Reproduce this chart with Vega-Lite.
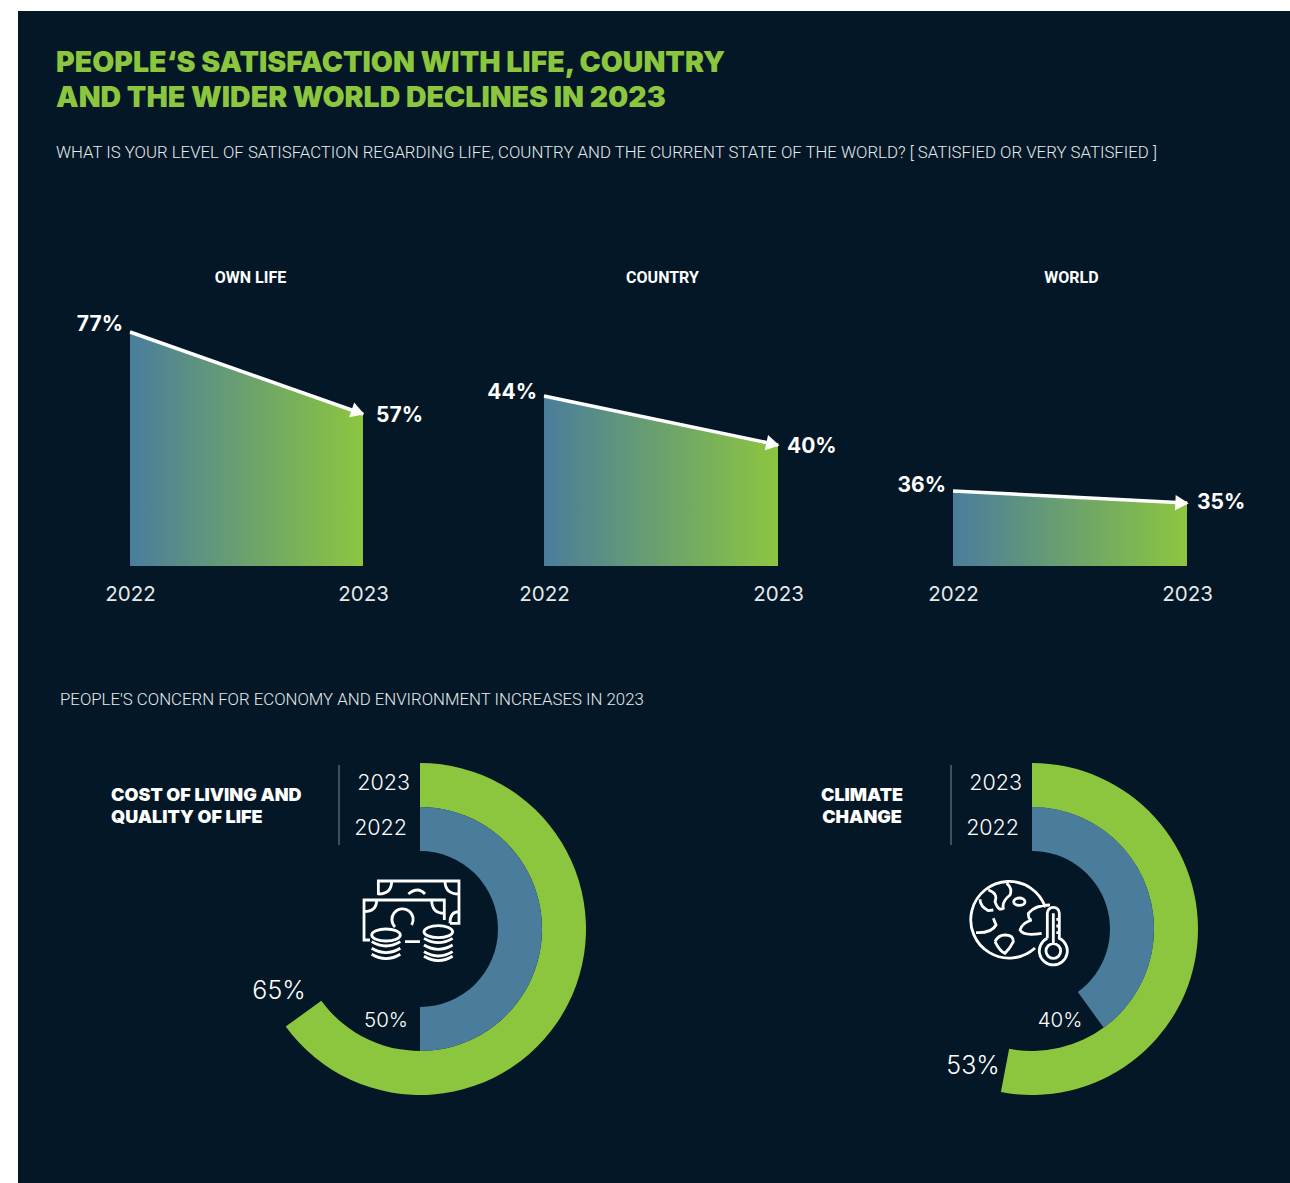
{
"$schema":"https://vega.github.io/schema/vega-lite/v6.json",
"width":1272,"height":1172,
"autosize":{"type":"none"},
"padding":{"left":18,"top":11,"right":0,"bottom":0},
"background":"#ffffff",
"view":{"fill":"#031726","stroke":null},
"title":{"text":["PEOPLE‘S SATISFACTION WITH LIFE, COUNTRY","AND THE WIDER WORLD DECLINES IN 2023"],
"subtitle":"WHAT IS YOUR LEVEL OF SATISFACTION REGARDING LIFE, COUNTRY AND THE CURRENT STATE OF THE WORLD? [ SATISFIED OR VERY SATISFIED ]",
"orient":"top","frame":"group","anchor":"start","dx":38,"offset":-151,
"font":"Inter","fontWeight":900,"fontSize":28.5,"lineHeight":35,"color":"#8cc63f",
"subtitleFont":"Roboto","subtitleFontWeight":300,"subtitleFontSize":16.8,"subtitleColor":"#e8ebed","subtitlePadding":33},
"datasets":{
"sat":[
{"panel":"OWN LIFE","year":2022,"pct":77,"label":"77%"},{"panel":"OWN LIFE","year":2023,"pct":57,"label":"57%"},
{"panel":"COUNTRY","year":2022,"pct":44,"label":"44%"},{"panel":"COUNTRY","year":2023,"pct":40,"label":"40%"},
{"panel":"WORLD","year":2022,"pct":36,"label":"36%"},{"panel":"WORLD","year":2023,"pct":35,"label":"35%"}],
"donut":[
{"panel":"cost","year":"2023","pct":65,"start":0,"label":"65%"},{"panel":"cost","year":"2022","pct":50,"start":0,"label":"50%"},
{"panel":"climate","year":"2023","pct":53,"start":0,"label":"53%"},{"panel":"climate","year":"2022","pct":40,"start":0,"label":"40%"}],
"notes":[{"panel":"cost","label":"COST OF LIVING AND\nQUALITY OF LIFE"},{"panel":"climate","label":"CLIMATE\nCHANGE"}]
},
"resolve":{"scale":{"x":"independent","y":"independent","theta":"independent"},"axis":{"x":"independent","y":"independent"}},
"layer":[
{"data":{"name":"sat"},"transform":[{"filter":"datum.panel==='OWN LIFE'"}],
"encoding":{
"x":{"field":"year","type":"quantitative","scale":{"domain":[2022,2023],"range":[112,345],"zero":false,"nice":false},
"axis":{"orient":"bottom","offset":-617,"values":[2022,2023],"format":"d","domain":false,"ticks":false,"grid":false,"labelPadding":18,"labelFont":"Inter","labelFontSize":20.5,"labelColor":"#e6e9eb","labelOverlap":false,"labelFlush":false,
"title":"OWN LIFE","titleFont":"Roboto","titleFontWeight":"bold","titleFontSize":16,"titleColor":"#ffffff","titleX":232,"titleY":-289,"titleAlign":"center","titleBaseline":"middle","titleAnchor":null}},
"y":{"field":"pct","type":"quantitative","scale":{"domain":[0,57,77],"range":[555,403,321]},"axis":null}},
"layer":[
{"mark":{"type":"area","line":false,"fill":{"gradient":"linear","x1":0,"x2":1,"y1":0,"y2":0,"stops":[{"offset":0,"color":"#4a7d9c"},{"offset":1,"color":"#8cc63f"}]}},"encoding":{"y2":{"datum":0}}},
{"mark":{"type":"line","stroke":"#ffffff","strokeWidth":3.5}},
{"transform":[{"filter":"datum.year===2023"}],"mark":{"type":"point","shape":"triangle-right","filled":true,"fill":"#ffffff","opacity":1,"size":240,"angle":19,"xOffset":-5,"yOffset":-2}},
{"transform":[{"filter":"datum.year===2022"}],"mark":{"type":"text","align":"right","baseline":"middle","dx":-7,"dy":-7,"font":"Inter","fontWeight":700,"fontSize":21,"fill":"#ffffff"},"encoding":{"text":{"field":"label"}}},
{"transform":[{"filter":"datum.year===2023"}],"mark":{"type":"text","align":"left","baseline":"middle","dx":13,"dy":2,"font":"Inter","fontWeight":700,"fontSize":21,"fill":"#ffffff"},"encoding":{"text":{"field":"label"}}}
]},
{"data":{"name":"sat"},"transform":[{"filter":"datum.panel==='COUNTRY'"}],
"encoding":{
"x":{"field":"year","type":"quantitative","scale":{"domain":[2022,2023],"range":[526,760],"zero":false,"nice":false},
"axis":{"orient":"bottom","offset":-617,"values":[2022,2023],"format":"d","domain":false,"ticks":false,"grid":false,"labelPadding":18,"labelFont":"Inter","labelFontSize":20.5,"labelColor":"#e6e9eb","labelOverlap":false,"labelFlush":false,
"title":"COUNTRY","titleFont":"Roboto","titleFontWeight":"bold","titleFontSize":16,"titleColor":"#ffffff","titleX":644,"titleY":-289,"titleAlign":"center","titleBaseline":"middle","titleAnchor":null}},
"y":{"field":"pct","type":"quantitative","scale":{"domain":[0,40,44],"range":[555,434,385]},"axis":null}},
"layer":[
{"mark":{"type":"area","line":false,"fill":{"gradient":"linear","x1":0,"x2":1,"y1":0,"y2":0,"stops":[{"offset":0,"color":"#4a7d9c"},{"offset":1,"color":"#8cc63f"}]}},"encoding":{"y2":{"datum":0}}},
{"mark":{"type":"line","stroke":"#ffffff","strokeWidth":3.5}},
{"transform":[{"filter":"datum.year===2023"}],"mark":{"type":"point","shape":"triangle-right","filled":true,"fill":"#ffffff","opacity":1,"size":240,"angle":12,"xOffset":-5,"yOffset":-1}},
{"transform":[{"filter":"datum.year===2022"}],"mark":{"type":"text","align":"right","baseline":"middle","dx":-7,"dy":-3,"font":"Inter","fontWeight":700,"fontSize":21,"fill":"#ffffff"},"encoding":{"text":{"field":"label"}}},
{"transform":[{"filter":"datum.year===2023"}],"mark":{"type":"text","align":"left","baseline":"middle","dx":9,"dy":2,"font":"Inter","fontWeight":700,"fontSize":21,"fill":"#ffffff"},"encoding":{"text":{"field":"label"}}}
]},
{"data":{"name":"sat"},"transform":[{"filter":"datum.panel==='WORLD'"}],
"encoding":{
"x":{"field":"year","type":"quantitative","scale":{"domain":[2022,2023],"range":[935,1169],"zero":false,"nice":false},
"axis":{"orient":"bottom","offset":-617,"values":[2022,2023],"format":"d","domain":false,"ticks":false,"grid":false,"labelPadding":18,"labelFont":"Inter","labelFontSize":20.5,"labelColor":"#e6e9eb","labelOverlap":false,"labelFlush":false,
"title":"WORLD","titleFont":"Roboto","titleFontWeight":"bold","titleFontSize":16,"titleColor":"#ffffff","titleX":1053,"titleY":-289,"titleAlign":"center","titleBaseline":"middle","titleAnchor":null}},
"y":{"field":"pct","type":"quantitative","scale":{"domain":[0,35,36],"range":[555,492,480]},"axis":null}},
"layer":[
{"mark":{"type":"area","line":false,"fill":{"gradient":"linear","x1":0,"x2":1,"y1":0,"y2":0,"stops":[{"offset":0,"color":"#4a7d9c"},{"offset":1,"color":"#8cc63f"}]}},"encoding":{"y2":{"datum":0}}},
{"mark":{"type":"line","stroke":"#ffffff","strokeWidth":3.5}},
{"transform":[{"filter":"datum.year===2023"}],"mark":{"type":"point","shape":"triangle-right","filled":true,"fill":"#ffffff","opacity":1,"size":240,"angle":3,"xOffset":-5,"yOffset":0}},
{"transform":[{"filter":"datum.year===2022"}],"mark":{"type":"text","align":"right","baseline":"middle","dx":-7,"dy":-5,"font":"Inter","fontWeight":700,"fontSize":21,"fill":"#ffffff"},"encoding":{"text":{"field":"label"}}},
{"transform":[{"filter":"datum.year===2023"}],"mark":{"type":"text","align":"left","baseline":"middle","dx":10,"dy":0,"font":"Inter","fontWeight":700,"fontSize":21,"fill":"#ffffff"},"encoding":{"text":{"field":"label"}}}
]},
{"data":{"name":"donut"},
"encoding":{
"x":{"field":"panel","type":"nominal","scale":{"type":"point","domain":["cost","climate"],"range":[402,1014],"padding":0},"axis":null},
"y":{"field":"panel","type":"nominal","scale":{"type":"point","domain":["cost","climate"],"range":[918,918],"padding":0},"axis":null}},
"layer":[
{"transform":[{"filter":"datum.year==='2023'"}],"mark":{"type":"arc","innerRadius":122,"outerRadius":166,"fill":"#8cc63f"},
"encoding":{"theta":{"field":"pct","type":"quantitative","stack":null,"scale":{"domain":[0,100],"range":[0,6.28319]}},"theta2":{"field":"start"}}},
{"transform":[{"filter":"datum.year==='2022'"}],"mark":{"type":"arc","innerRadius":78,"outerRadius":122,"fill":"#4a7d9c"},
"encoding":{"theta":{"field":"pct","type":"quantitative","stack":null,"scale":{"domain":[0,100],"range":[0,6.28319]}},"theta2":{"field":"start"}}},
{"transform":[{"filter":"datum.year==='2023'"}],"mark":{"type":"text","align":"right","baseline":"middle","dx":-10,"dy":-145,"font":"Inter","fontWeight":300,"fontSize":21.5,"fill":"#ffffff"},"encoding":{"text":{"field":"year"}}},
{"transform":[{"filter":"datum.year==='2022'"}],"mark":{"type":"text","align":"right","baseline":"middle","dx":-13,"dy":-100,"font":"Inter","fontWeight":300,"fontSize":21.5,"fill":"#ffffff"},"encoding":{"text":{"field":"year"}}},
{"transform":[{"filter":"datum.year==='2022' && datum.panel==='cost'"}],"mark":{"type":"tick","orient":"vertical","size":80,"thickness":1.5,"color":"#56636e","opacity":1,"xOffset":-81,"yOffset":-124}},
{"transform":[{"filter":"datum.year==='2022' && datum.panel==='climate'"}],"mark":{"type":"tick","orient":"vertical","size":80,"thickness":1.5,"color":"#56636e","opacity":1,"xOffset":-81,"yOffset":-124}},
{"transform":[{"filter":"datum.year==='2023' && datum.panel==='cost'"}],"mark":{"type":"text","align":"center","baseline":"middle","dx":-141,"dy":62,"font":"Inter","fontWeight":300,"fontSize":25,"fill":"#ffffff"},"encoding":{"text":{"field":"label"}}},
{"transform":[{"filter":"datum.year==='2022' && datum.panel==='cost'"}],"mark":{"type":"text","align":"center","baseline":"middle","dx":-34,"dy":92,"font":"Inter","fontWeight":300,"fontSize":20.5,"fill":"#ffffff"},"encoding":{"text":{"field":"label"}}},
{"transform":[{"filter":"datum.year==='2023' && datum.panel==='climate'"}],"mark":{"type":"text","align":"center","baseline":"middle","dx":-59,"dy":137,"font":"Inter","fontWeight":300,"fontSize":25,"fill":"#ffffff"},"encoding":{"text":{"field":"label"}}},
{"transform":[{"filter":"datum.year==='2022' && datum.panel==='climate'"}],"mark":{"type":"text","align":"center","baseline":"middle","dx":28,"dy":92,"font":"Inter","fontWeight":300,"fontSize":20.5,"fill":"#ffffff"},"encoding":{"text":{"field":"label"}}},
{"data":{"name":"notes"},"transform":[{"filter":"datum.panel==='cost'"}],"mark":{"type":"text","align":"left","baseline":"top","lineBreak":"\n","lineHeight":22,"dx":-309,"dy":-142,"font":"Inter","fontWeight":900,"fontSize":18,"fill":"#ffffff"},"encoding":{"text":{"field":"label"}}},
{"data":{"name":"notes"},"transform":[{"filter":"datum.panel==='climate'"}],"mark":{"type":"text","align":"center","baseline":"top","lineBreak":"\n","lineHeight":22,"dx":-170,"dy":-142,"font":"Inter","fontWeight":900,"fontSize":18,"fill":"#ffffff"},"encoding":{"text":{"field":"label"}}},
{"data":{"values":[{"panel":"cost","label":"PEOPLE'S CONCERN FOR ECONOMY AND ENVIRONMENT INCREASES IN 2023"}]},"mark":{"type":"text","align":"left","baseline":"middle","dx":-360,"dy":-229,"font":"Roboto","fontWeight":300,"fontSize":16.8,"fill":"#e8ebed"},"encoding":{"text":{"field":"label"}}},
{"data":{"values":[{"panel":"cost"}]},"mark":{"type":"point","filled":false,"stroke":"#ffffff","strokeWidth":2.8,"opacity":1,"size":0.444,"xOffset":-9,"yOffset":-8,"shape":"M-98 -78 L-98 -120 L144 -120 L144 7 L117 7 M-98 -81 Q-58 -81 -58 -120 M102 -120 Q102 -81 144 -81 M144 -28 Q117 -28 117 7 M-8 -81 Q21 -105 42 -81 M-123 57 L-141 57 L-141 -63 L100 -63 L100 -3 M-141 -28 Q-103 -28 -103 -63 M62 -63 Q62 -23 100 -23 M-48 18 A32 32 0 1 1 2 12 M-18 62 L27 62 M-118 42 A43 18 0 1 0 -32 42 A43 18 0 1 0 -118 42 M-118 62 Q-75 88 -32 62 M-118 82 Q-75 108 -32 82 M-118 100 Q-75 126 -32 100 M39 32 A43 18 0 1 0 125 32 A43 18 0 1 0 39 32 M39 52 Q82 78 125 52 M39 72 Q82 98 125 72 M39 92 Q82 118 125 92 M39 106 Q82 132 125 106"}},
{"data":{"values":[{"panel":"climate"}]},"mark":{"type":"point","filled":false,"stroke":"#ffffff","strokeWidth":2.8,"opacity":1,"size":0.444,"xOffset":-13,"yOffset":-8,"shape":"M79 -41 A115 115 0 1 0 48 81 M-92 -93 Q-62 -83 -72 -58 Q-62 -28 -47 -38 Q-52 -58 -27 -78 Q-19 -98 -37 -113 M-117 -65 Q-117 -43 -92 -31 L-77 -33 M-129 35 Q-82 37 -69 12 L-77 -8 M-16 -58 A17 11 0 1 0 18 -58 A17 11 0 1 0 -16 -58 M-72 62 Q-62 42 -42 42 Q-17 42 -17 62 Q-27 82 -42 97 Q-57 92 -72 62 M93 -48 Q48 -48 28 -23 Q28 -3 38 -3 Q8 7 3 27 Q13 47 68 37 M85 52 L85 -23 A18 18 0 0 1 121 -23 L121 52 A42 42 0 1 1 85 52 M81 90 A22 22 0 1 0 125 90 A22 22 0 1 0 81 90 M103 -23 L103 68 M112 -5 L121 -5 M112 15 L121 15 M112 35 L121 35"}}
]}
]
}
